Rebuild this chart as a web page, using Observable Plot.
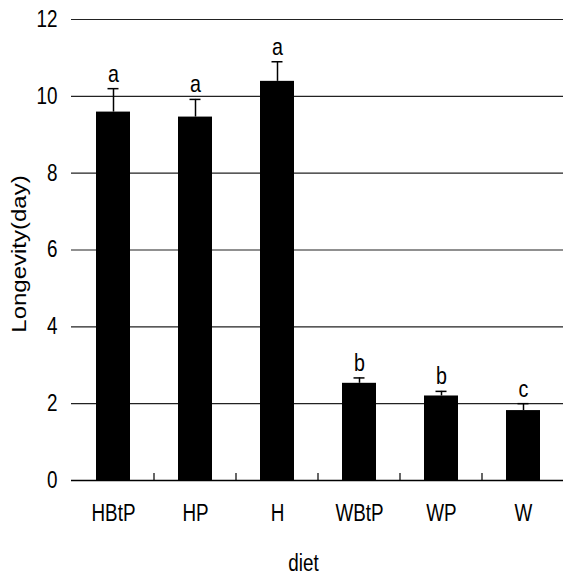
<!DOCTYPE html>
<html>
<head>
<meta charset="utf-8">
<script src="https://cdn.jsdelivr.net/npm/d3@7"></script>
<script src="https://cdn.jsdelivr.net/npm/@observablehq/plot@0.6"></script>
<style>
  html, body { margin: 0; padding: 0; background: #fff; }
</style>
</head>
<body>
<div id="chart"></div>
<script>
const categories = ["HBtP", "HP", "H", "WBtP", "WP", "W"];
const means = [9.59, 9.46, 10.39, 2.53, 2.20, 1.82];
const errors = [0.61, 0.46, 0.51, 0.14, 0.12, 0.18];
const letters = ["a", "a", "a", "b", "b", "c"];
const yTicks = [0, 2, 4, 6, 8, 10, 12];

const data = categories.map((c, i) => ({diet: c, mean: means[i], top: means[i] + errors[i], letter: letters[i]}));

const FONT = 23;
const NARROW = 0.82;

const separators = (index, scales) => {
  const x = scales.x;
  const step = x.step ? x.step() : x.bandwidth();
  const bw = x.bandwidth();
  const y0 = scales.y(0);
  const g = d3.create("svg:g");
  categories.slice(0, -1).forEach(c => {
    const px = x(c) + bw + (step - bw) / 2;
    g.append("line").attr("x1", px).attr("x2", px).attr("y1", y0).attr("y2", y0 - 7)
      .attr("stroke", "#000").attr("stroke-width", 1.2);
  });
  return g.node();
};

const chart = Plot.plot({
  width: 563,
  height: 576,
  marginLeft: 71,
  marginRight: 0,
  marginTop: 19,
  marginBottom: 96,
  style: {fontSize: FONT + "px", fontFamily: '"Liberation Sans", Arial, sans-serif', color: "#000", background: "#fff"},
  x: {domain: categories, range: [71, 565.5], paddingInner: 0.59, paddingOuter: 0.295},
  y: {domain: [0, 12], ticks: yTicks},
  marks: [
    Plot.gridY(yTicks.filter(t => t > 0), {stroke: "#222", strokeOpacity: 1, strokeWidth: 1.2}),
    Plot.barY(data, {x: "diet", y: "mean", fill: "#000"}),
    Plot.ruleX(data, {x: "diet", y1: "mean", y2: "top", stroke: "#000", strokeWidth: 1.5}),
    Plot.tickY(data, {x: "diet", y: "top", stroke: "#000", strokeWidth: 1.5, insetLeft: 11.5, insetRight: 11.5}),
    Plot.text(data, {x: "diet", y: "top", text: "letter", dy: -7, lineAnchor: "bottom", fontSize: 24, fill: "#000"}),
    Plot.ruleY([0], {stroke: "#000", strokeWidth: 1.5}),
    Plot.ruleX([0], {x: () => null, frameAnchor: "left", stroke: "#000", strokeWidth: 1.5}),
    separators,
    Plot.axisY({ticks: yTicks, tickSize: 0, tickPadding: 14, fontSize: FONT, label: null}),
    Plot.axisY({ticks: [], tickSize: 0, fontSize: 24, label: "Longevity(day)", labelAnchor: "center", labelArrow: "none", labelOffset: 59}),
    Plot.axisX({tickSize: 0, tickPadding: 24, fontSize: FONT, label: null}),
    Plot.text(["diet"], {frameAnchor: "bottom", text: d => d, dx: -14, dy: 90, lineAnchor: "bottom", fontSize: FONT, fill: "#000"})
  ]
});

// condense glyphs horizontally (narrow sans look) around each text's own anchor
chart.querySelectorAll("text").forEach(t => {
  const tr = t.getAttribute("transform") || "";
  const rotated = /rotate/.test(tr);
  t.setAttribute("transform", `${tr} ${rotated ? `translate(-4,0) scale(1,${NARROW})` : `scale(${NARROW},1)`}`.trim());
});

document.getElementById("chart").appendChild(chart);
</script>
</body>
</html>
